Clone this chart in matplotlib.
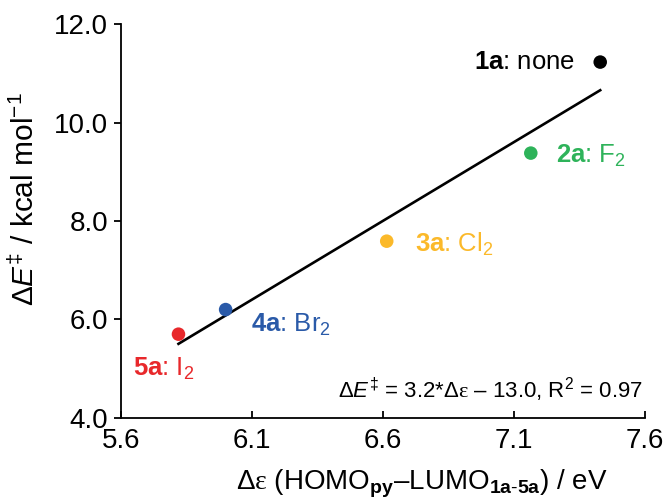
import numpy as np
import matplotlib.pyplot as plt

plt.rcParams['font.family'] = ['Liberation Sans', 'DejaVu Sans']
plt.rcParams['mathtext.fontset'] = 'custom'
plt.rcParams['mathtext.rm'] = 'Liberation Sans'
plt.rcParams['mathtext.it'] = 'Liberation Sans:italic'
plt.rcParams['mathtext.bf'] = 'Liberation Sans:bold'
plt.rcParams['mathtext.sf'] = 'Liberation Serif'  # para la epsilon

# datos
compuestos = ['1a', '2a', '3a', '4a', '5a']
halogenos = ['none', 'F$_2$', 'Cl$_2$', 'Br$_2$', 'I$_2$']
delta_eps = [7.43, 7.165, 6.615, 6.00, 5.82]
delta_E = [11.23, 9.38, 7.59, 6.20, 5.70]
colores = ['#000000', '#2eb35a', '#fbb92a', '#2a5aa8', '#e8282b']

fig = plt.figure(figsize=(6.64, 5.04), dpi=100)
ax = fig.add_axes([0.182, 0.171, 0.789, 0.781])

# ajuste lineal
m, b = np.polyfit(delta_eps, delta_E, 1)
xs = np.array([min(delta_eps), max(delta_eps)])
ax.plot(xs, m * xs + b, color='black', lw=1.9, zorder=2)

ax.scatter(delta_eps, delta_E, s=95, c=colores, zorder=3, edgecolors='none')

# etiquetas de cada punto: (dx, dy) en puntos, alineacion
offsets = [(-18, 0, 'right'), (18, -2, 'left'), (20, -2, 'left'),
           (18, -11, 'left'), (-33, -25, 'left')]
for i in range(len(compuestos)):
    dx, dy, ha = offsets[i]
    ax.annotate(r'$\mathbf{%s}$: %s' % (compuestos[i], halogenos[i]),
                (delta_eps[i], delta_E[i]), xytext=(dx, dy),
                textcoords='offset points', ha=ha, va='center',
                color=colores[i], fontsize=18.5)

eps = r'$\mathsf{\varepsilon}$'
ax.text(0.997, 0.035, r'$\Delta E^{\ddag}$ = 3.2*$\Delta$' + eps + ' – 13.0, R$^2$ = 0.97',
        transform=ax.transAxes, ha='right', va='bottom', fontsize=16)

ax.set_xlim(5.6, 7.6)
ax.set_ylim(4.0, 12.0)
ax.set_xticks([5.6, 6.1, 6.6, 7.1, 7.6])
ax.set_yticks([4, 6, 8, 10, 12])
ax.set_yticklabels(['4.0', '6.0', '8.0', '10.0', '12.0'])
ax.tick_params(axis='x', direction='in', length=5, width=1.3, labelsize=20, pad=7)
ax.tick_params(axis='y', direction='out', length=5, width=1.3, labelsize=20, pad=4)
for s in ['top', 'right']:
    ax.spines[s].set_visible(False)
for s in ['left', 'bottom']:
    ax.spines[s].set_linewidth(1.3)

ax.set_xlabel(r'$\Delta$' + eps + r' (HOMO$_{\mathbf{py}}$–LUMO$_{\mathbf{1a\text{-}5a}}$) / eV',
              fontsize=20)
ax.set_ylabel(r'$\Delta E^{\ddag}$ / kcal mol$^{-1}$', fontsize=21.5)
ax.xaxis.set_label_coords(0.575, -0.128)
ax.yaxis.set_label_coords(-0.155, 0.556)

fig.savefig('out.png', dpi=100)
